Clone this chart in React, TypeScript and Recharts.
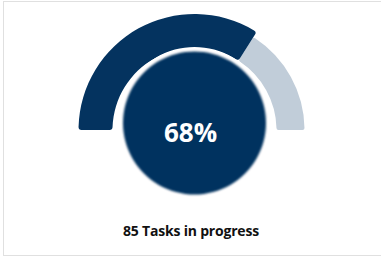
import React from "react";
import { PieChart, Pie, Cell, Label } from "recharts";

const categories = ["In progress", "Remaining"];
const shares = [68, 32];
const centerLabel = "68%";
const caption = "85 Tasks in progress";

const DARK = "#04335f";
const LIGHT = "#c1cdd9";

const data = categories.map((name, i) => ({ name, value: shares[i] }));
const disc = [{ name: "disc", value: 1 }];

const App: React.FC = () => {
  return (
    <div
      style={{
        position: "absolute",
        left: 0,
        top: 0,
        width: 381,
        height: 256,
        background: "#fff",
        fontFamily: "'Open Sans', sans-serif",
      }}
    >
      <div
        style={{
          position: "absolute",
          left: 3,
          top: 1,
          width: 380,
          height: 255,
          border: "1px solid #e0e0e0",
          boxSizing: "border-box",
        }}
      />
      <PieChart
        width={381}
        height={256}
        margin={{ top: 0, right: 0, bottom: 0, left: 0 }}
        style={{ position: "absolute", left: 0, top: 0 }}
      >
        <defs>
          <filter id="soft" x="-10%" y="-10%" width="120%" height="120%">
            <feGaussianBlur stdDeviation="1.3" />
          </filter>
        </defs>
        {/* remaining part, thinner */}
        <Pie
          data={data}
          dataKey="value"
          cx={194.5}
          cy={130}
          startAngle={180}
          endAngle={0}
          innerRadius={82}
          outerRadius={110}
          cornerRadius={2}
          stroke="none"
          isAnimationActive={false}
        >
          <Cell fill="transparent" />
          <Cell fill={LIGHT} />
        </Pie>
        {/* progress part */}
        <Pie
          data={data}
          dataKey="value"
          cx={194.5}
          cy={130}
          startAngle={180}
          endAngle={0}
          innerRadius={82}
          outerRadius={116}
          cornerRadius={3}
          stroke="none"
          isAnimationActive={false}
        >
          <Cell fill={DARK} />
          <Cell fill="transparent" />
        </Pie>
        {/* white halo behind the centre disc */}
        <Pie
          data={disc}
          dataKey="value"
          cx={194.5}
          cy={123}
          startAngle={90}
          endAngle={-270}
          innerRadius={0}
          outerRadius={76}
          stroke="none"
          fill="#fff"
          isAnimationActive={false}
        />
        <Pie
          data={disc}
          dataKey="value"
          cx={194.5}
          cy={123}
          startAngle={90}
          endAngle={-270}
          innerRadius={0}
          outerRadius={71.5}
          stroke="none"
          isAnimationActive={false}
        >
          <Cell fill={DARK} filter="url(#soft)" />
          <Label
            value={centerLabel}
            position="center"
            dy={4.5}
            fill="#fff"
            fontSize={26}
            fontWeight={700}
            fontFamily="'Open Sans', sans-serif"
          />
        </Pie>
      </PieChart>
      <div
        style={{
          position: "absolute",
          left: 0,
          top: 224,
          width: 382,
          textAlign: "center",
          fontSize: 14,
          lineHeight: "14px",
          fontWeight: 700,
          letterSpacing: -0.2,
          color: "#111",
        }}
      >
        {caption}
      </div>
    </div>
  );
};

export default App;
